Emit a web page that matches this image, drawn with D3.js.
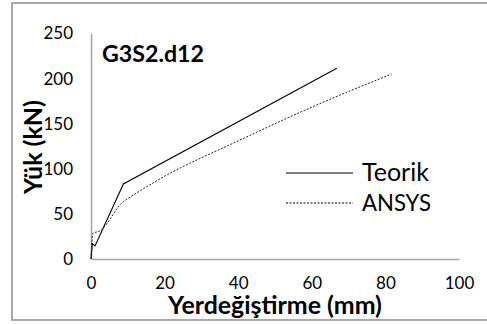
<!DOCTYPE html>
<html>
<head>
<meta charset="utf-8">
<script src="https://cdn.jsdelivr.net/npm/d3@7"></script>
<style>
  body { margin: 0; background: #fff; }
  text { font-family: Lato, "Open Sans", sans-serif; fill: #000; }
</style>
</head>
<body>
<figure style="margin:0"></figure>
<script>
const teorikX = [0, 0.35, 1.1, 8.8, 66.8];
const teorikY = [0, 17, 14.5, 83, 211];
const ansysX = [0, 0.5, 2.4, 8.3, 12, 18.7, 40.5, 60, 81.7];
const ansysY = [0, 28.4, 31, 61.6, 72, 88.5, 131.6, 168, 204.6];
const xTicks = [0, 20, 40, 60, 80, 100];
const yTicks = [0, 50, 100, 150, 200, 250];
const seriesNames = ['Teorik', 'ANSYS'];

(() => {
  const totalWidth = 487;
  const totalHeight = 324;

  const svg = d3.select('figure').append('svg')
    .attr('width', totalWidth)
    .attr('height', totalHeight);

  // fit a text to a width
  const fit = (sel, w) => {
    const l = sel.node().getComputedTextLength();
    const fs = parseFloat(sel.attr('font-size'));
    sel.attr('font-size', fs * w / l);
    return sel;
  };

  svg.append('rect')
    .attr('x', 12).attr('y', 3)
    .attr('width', 476).attr('height', 317)
    .attr('fill', '#fff')
    .attr('stroke', '#8c8c8c')
    .attr('stroke-width', 1.5);

  const x = d3.scaleLinear().domain([0, 100]).range([91, 459]);
  const y = d3.scaleLinear().domain([0, 250]).range([259, 33]);

  // axes
  svg.append('g')
    .attr('transform', 'translate(0,' + y(0) + ')')
    .call(d3.axisBottom(x).tickValues(xTicks).tickSize(0).tickPadding(0))
    .call(g => g.select('.domain').attr('stroke', '#a6a6a6').attr('stroke-width', 1.5))
    .call(g => g.selectAll('text')
      .attr('font-family', null)
      .attr('font-size', 17)
      .attr('dy', null)
      .attr('y', 30));

  svg.append('g')
    .attr('transform', 'translate(' + x(0) + ',0)')
    .call(d3.axisLeft(y).tickValues(yTicks).tickSize(0).tickPadding(18))
    .call(g => g.select('.domain').attr('stroke', '#a6a6a6').attr('stroke-width', 1.5))
    .call(g => g.selectAll('text')
      .attr('font-family', null)
      .attr('font-size', 17)
      .attr('dy', '0.35em'));

  const teorik = teorikX.map((v, i) => [v, teorikY[i]]);
  const ansys = ansysX.map((v, i) => [v, ansysY[i]]);
  const line = d3.line().x(d => x(d[0])).y(d => y(d[1]));

  svg.append('path')
    .datum(teorik)
    .attr('fill', 'none')
    .attr('stroke', '#000')
    .attr('stroke-width', 1.1)
    .attr('d', line);

  svg.append('path')
    .datum(ansys)
    .attr('fill', 'none')
    .attr('stroke', '#222')
    .attr('stroke-width', 1)
    .attr('stroke-dasharray', '2,1.5')
    .attr('d', d3.line().curve(d3.curveMonotoneX).x(d => x(d[0])).y(d => y(d[1])));

  // title
  fit(svg.append('text')
    .attr('x', 102).attr('y', 62)
    .attr('font-weight', 'bold')
    .attr('font-size', 24)
    .text('G3S2.d12'), 102);

  // axis titles
  fit(svg.append('text')
    .attr('x', 275).attr('y', 314)
    .attr('text-anchor', 'middle')
    .attr('font-weight', 'bold')
    .attr('font-size', 25)
    .text('Yerdeğiştirme (mm)'), 214);

  fit(svg.append('text')
    .attr('transform', 'translate(42,147) rotate(-90)')
    .attr('text-anchor', 'middle')
    .attr('font-weight', 'bold')
    .attr('font-size', 25)
    .text('Yük (kN)'), 94);

  // legend
  const legend = svg.append('g');
  const ly = [173, 203];
  const lw = [67, 69];
  seriesNames.forEach((name, i) => {
    legend.append('line')
      .attr('x1', 286).attr('x2', 353)
      .attr('y1', ly[i]).attr('y2', ly[i])
      .attr('stroke', '#000')
      .attr('stroke-width', 1)
      .attr('stroke-dasharray', i === 1 ? '2,1.5' : null);
    fit(legend.append('text')
      .attr('x', 362).attr('y', ly[i] + 8)
      .attr('font-size', 24)
      .text(name), lw[i]);
  });
})();
</script>
</body>
</html>
